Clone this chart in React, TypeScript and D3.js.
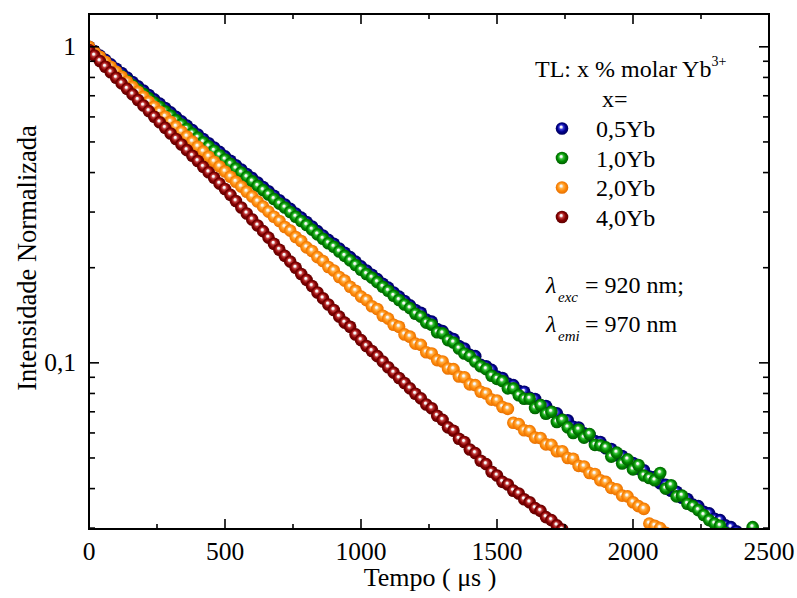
import React from 'react';
import * as d3 from 'd3';

// sampling interval of the decay curves (µs)
const T_STEP = 20;

const xMajorTicks = [0, 500, 1000, 1500, 2000, 2500];
const xMinorTicks = [250, 750, 1250, 1750, 2250];
const yMajorTicks = [0.1, 1];
const yMajorLabels = ['0,1', '1'];
const yMinorTicks = [0.03, 0.04, 0.05, 0.06, 0.07, 0.08, 0.09, 0.2, 0.3, 0.4, 0.5, 0.6, 0.7, 0.8, 0.9];

const seriesNames = ['0,5Yb', '1,0Yb', '2,0Yb', '4,0Yb'];

const yb05 = [
  1.000, 0.969, 0.938, 0.909, 0.880, 0.852, 0.826, 0.800, 0.774, 0.750,
  0.727, 0.704, 0.682, 0.661, 0.640, 0.620, 0.600, 0.581, 0.563, 0.545,
  0.528, 0.511, 0.495, 0.480, 0.465, 0.450, 0.436, 0.422, 0.409, 0.396,
  0.384, 0.372, 0.360, 0.349, 0.338, 0.327, 0.317, 0.307, 0.297, 0.288,
  0.279, 0.270, 0.261, 0.253, 0.245, 0.238, 0.230, 0.223, 0.216, 0.209,
  0.202, 0.196, 0.190, 0.184, 0.178, 0.173, 0.167, 0.162, 0.157, 0.152,
  0.147, 0.144, 0.137, 0.135, 0.128, 0.126, 0.121, 0.119, 0.113, 0.111,
  0.106, 0.105, 0.0985, 0.0975, 0.0950, 0.0905, 0.0895, 0.0860, 0.0850, 0.0815,
  0.0810, 0.0775, 0.0768, 0.0735, 0.0730, 0.0700, 0.0692, 0.0660, 0.0658, 0.0628,
  0.0624, 0.0598, 0.0593, 0.0566, 0.0562, 0.0537, 0.0534, 0.0510, 0.0507, 0.0485,
  0.0482, 0.0462, 0.0457, 0.0437, 0.0435, 0.0416, 0.0411, 0.0394, 0.0391, 0.0374,
  0.0371, 0.0356, 0.0352, 0.0338, 0.0334, 0.0321, 0.0318, 0.0306, 0.0302, 0.0293,
];

const yb10 = [
  0.985, 0.947, 0.916, 0.888, 0.860, 0.832, 0.807, 0.782, 0.756, 0.733,
  0.710, 0.688, 0.666, 0.646, 0.625, 0.606, 0.586, 0.568, 0.550, 0.532,
  0.516, 0.499, 0.484, 0.469, 0.454, 0.440, 0.426, 0.412, 0.400, 0.387,
  0.375, 0.363, 0.352, 0.341, 0.330, 0.319, 0.310, 0.300, 0.290, 0.281,
  0.273, 0.264, 0.255, 0.247, 0.239, 0.233, 0.225, 0.218, 0.211, 0.204,
  0.197, 0.191, 0.186, 0.180, 0.174, 0.169, 0.163, 0.158, 0.153, 0.149,
  0.143, 0.140, 0.134, 0.132, 0.125, 0.124, 0.118, 0.116, 0.111, 0.107,
  0.105, 0.101, 0.0975, 0.0955, 0.0910, 0.0890, 0.0875, 0.0830, 0.0830, 0.0790,
  0.0770, 0.0770, 0.0720, 0.0735, 0.0690, 0.0700, 0.0650, 0.0660, 0.0625, 0.0600,
  0.0615, 0.0580, 0.0595, 0.0550, 0.0548, 0.0540, 0.0505, 0.0520, 0.0480, 0.0495,
  0.0460, 0.0475, 0.0440, 0.0432, 0.0425, 0.0448, 0.0400, 0.0410, 0.0378, 0.0380,
  0.0358, 0.0352, 0.0342, 0.0330, 0.0318, 0.0310, 0.0305, 0.0290, 0.0285, 0.0280,
  0.0275, 0.0270, 0.0302,
];

const yb20 = [
  1.000, 0.964, 0.930, 0.897, 0.865, 0.834, 0.804, 0.775, 0.747, 0.721,
  0.695, 0.670, 0.646, 0.623, 0.601, 0.579, 0.559, 0.539, 0.520, 0.501,
  0.483, 0.466, 0.449, 0.433, 0.418, 0.403, 0.388, 0.374, 0.361, 0.348,
  0.336, 0.324, 0.312, 0.301, 0.290, 0.281, 0.269, 0.262, 0.250, 0.243,
  0.232, 0.226, 0.216, 0.210, 0.201, 0.196, 0.187, 0.182, 0.174, 0.169,
  0.162, 0.158, 0.151, 0.148, 0.141, 0.138, 0.132, 0.130, 0.123, 0.121,
  0.115, 0.114, 0.108, 0.107, 0.102, 0.101, 0.0960, 0.0955, 0.0905, 0.0900,
  0.0855, 0.0850, 0.0810, 0.0800, 0.0765, 0.0760, 0.0725, 0.0715, 0.0646, 0.0640,
  0.0612, 0.0608, 0.0580, 0.0578, 0.0552, 0.0550, 0.0525, 0.0525, 0.0500, 0.0497,
  0.0472, 0.0470, 0.0448, 0.0445, 0.0425, 0.0420, 0.0402, 0.0398, 0.0380, 0.0378,
  0.0362, 0.0352, 0.0345, 0.0310, 0.0305, 0.0300, 0.0290,
];

const yb40 = [
  0.977, 0.938, 0.901, 0.865, 0.831, 0.798, 0.766, 0.736, 0.707, 0.679,
  0.652, 0.626, 0.601, 0.577, 0.554, 0.532, 0.511, 0.491, 0.471, 0.452,
  0.435, 0.417, 0.401, 0.385, 0.369, 0.355, 0.340, 0.325, 0.310, 0.297,
  0.284, 0.272, 0.261, 0.249, 0.238, 0.228, 0.218, 0.209, 0.200, 0.191,
  0.183, 0.175, 0.167, 0.160, 0.153, 0.147, 0.140, 0.134, 0.130, 0.123,
  0.118, 0.113, 0.109, 0.105, 0.101, 0.0968, 0.0931, 0.0895, 0.0863, 0.0830,
  0.0798, 0.0772, 0.0738, 0.0718, 0.0680, 0.0660, 0.0625, 0.0610, 0.0575, 0.0562,
  0.0532, 0.0518, 0.0490, 0.0478, 0.0452, 0.0440, 0.0420, 0.0412, 0.0394, 0.0386,
  0.0370, 0.0362, 0.0347, 0.0340, 0.0325, 0.0318, 0.0306, 0.0297,
];

const seriesValues = [yb05, yb10, yb20, yb40];

const palette = [
  { base: '#00008c', light: '#3a3ad8', dark: '#000050' },
  { base: '#008a00', light: '#39c239', dark: '#005400' },
  { base: '#ff8a0a', light: '#ffb14a', dark: '#e06a00' },
  { base: '#850000', light: '#c03a3a', dark: '#520000' },
];

const FONT = "'Liberation Serif', 'Times New Roman', Times, serif";

export default function App() {
  const W = 797;
  const H = 598;
  const left = 89, right = 769, top = 14, bottom = 529;
  const x = d3.scaleLinear().domain([0, 2500]).range([left, right]);
  const y = d3.scaleLog().domain([0.0298, 1.27]).range([bottom, top]);
  const R = 6.3;

  return (
    <div style={{ position: 'absolute', left: 0, top: 0 }}>
      <svg width={W} height={H} style={{ display: 'block', background: '#fff' }} fontFamily={FONT}>
        <defs>
          {palette.map((p, i) => (
            <radialGradient key={i} id={`ball${i}`} cx="50%" cy="50%" r="55%" fx="42%" fy="36%">
              <stop offset="0%" stopColor="#ffffff" />
              <stop offset="14%" stopColor="#f4f4f4" />
              <stop offset="32%" stopColor={p.light} />
              <stop offset="60%" stopColor={p.base} />
              <stop offset="100%" stopColor={p.dark} />
            </radialGradient>
          ))}
          <clipPath id="plotClip">
            <rect x={left} y={top} width={right - left} height={bottom - top} />
          </clipPath>
        </defs>

        <g clipPath="url(#plotClip)">
          {seriesValues.map((vals, si) => (
            <g key={si}>
              {vals.map((v, i) => (
                <circle key={i} cx={x(i * T_STEP)} cy={y(v)} r={R} fill={`url(#ball${si})`} />
              ))}
            </g>
          ))}
        </g>

        {/* frame */}
        <rect x={left} y={top} width={right - left} height={bottom - top} fill="none" stroke="#000" strokeWidth={2} />

        {/* x ticks */}
        {xMajorTicks.map((t) => (
          <g key={`xm${t}`}>
            <line x1={x(t)} x2={x(t)} y1={bottom} y2={bottom - 10} stroke="#000" strokeWidth={1.6} />
            <line x1={x(t)} x2={x(t)} y1={top} y2={top + 10} stroke="#000" strokeWidth={1.6} />
            <text x={x(t)} y={560} textAnchor="middle" fontSize={25.5} fill="#000">{t}</text>
          </g>
        ))}
        {xMinorTicks.map((t) => (
          <g key={`xn${t}`}>
            <line x1={x(t)} x2={x(t)} y1={bottom} y2={bottom - 5} stroke="#000" strokeWidth={1.6} />
            <line x1={x(t)} x2={x(t)} y1={top} y2={top + 5} stroke="#000" strokeWidth={1.6} />
          </g>
        ))}

        {/* y ticks */}
        {yMajorTicks.map((t, i) => (
          <g key={`ym${t}`}>
            <line x1={left} x2={left + 10} y1={y(t)} y2={y(t)} stroke="#000" strokeWidth={1.6} />
            <line x1={right} x2={right - 10} y1={y(t)} y2={y(t)} stroke="#000" strokeWidth={1.6} />
            <text x={76} y={y(t) + 8.5} textAnchor="end" fontSize={25.5} fill="#000">{yMajorLabels[i]}</text>
          </g>
        ))}
        {yMinorTicks.map((t) => (
          <g key={`yn${t}`}>
            <line x1={left} x2={left + 6} y1={y(t)} y2={y(t)} stroke="#000" strokeWidth={1.6} />
            <line x1={right} x2={right - 6} y1={y(t)} y2={y(t)} stroke="#000" strokeWidth={1.6} />
          </g>
        ))}

        {/* axis titles */}
        <text x={430} y={586} textAnchor="middle" fontSize={26} fill="#000">Tempo ( μs )</text>
        <text transform="translate(36,258) rotate(-90)" textAnchor="middle" fontSize={26.5} fill="#000">
          Intensidade Normalizada
        </text>

        {/* legend */}
        <text x={535} y={77} fontSize={24} fill="#000">
          TL: x % molar Yb<tspan fontSize={14} dy={-11}>3+</tspan>
        </text>
        <text x={602} y={107} fontSize={24} fill="#000">x=</text>
        {seriesNames.map((n, i) => (
          <g key={n}>
            <circle cx={562} cy={128.5 + i * 29.5} r={6.3} fill={`url(#ball${i})`} />
            <text x={596} y={137 + i * 29.5} fontSize={24} fill="#000">{n}</text>
          </g>
        ))}

        {/* excitation / emission */}
        <text x={546} y={293} fontSize={24} fontStyle="italic" fill="#000">λ</text>
        <text x={558} y={302} fontSize={15} fontStyle="italic" fill="#000">exc</text>
        <text x={585} y={293} fontSize={24} fill="#000">= 920 nm;</text>
        <text x={546} y={332} fontSize={24} fontStyle="italic" fill="#000">λ</text>
        <text x={558} y={341} fontSize={15} fontStyle="italic" fill="#000">emi</text>
        <text x={585} y={332} fontSize={24} fill="#000">= 970 nm</text>
      </svg>
    </div>
  );
}
